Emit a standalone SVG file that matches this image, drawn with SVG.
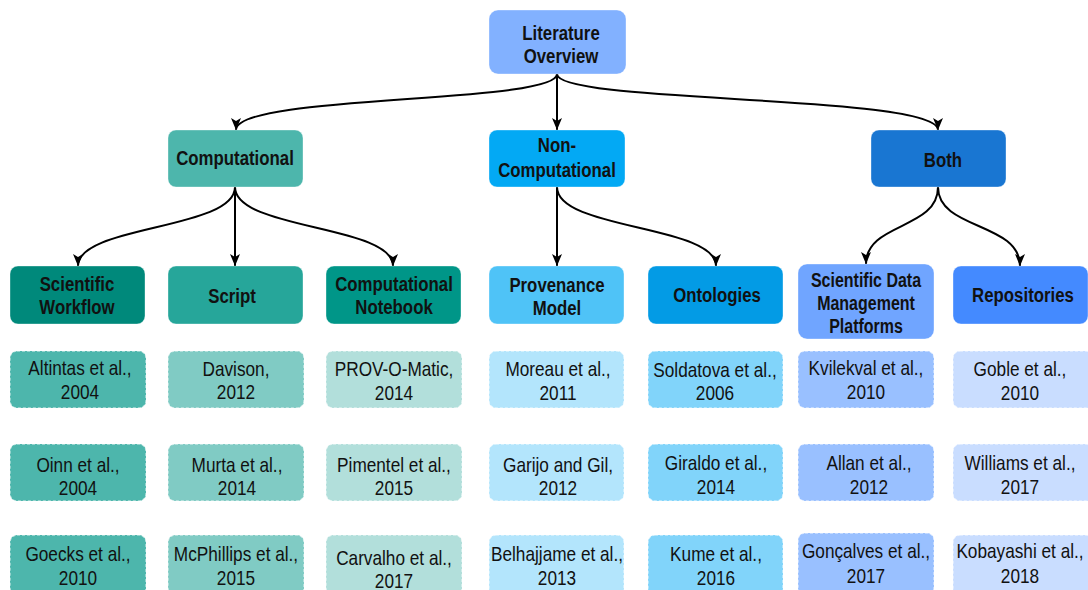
<svg xmlns="http://www.w3.org/2000/svg" width="1088" height="590" viewBox="0 0 1088 590">
  <defs>
    <marker id="arrow" markerUnits="userSpaceOnUse" markerWidth="14" markerHeight="10" refX="12" refY="5" orient="auto">
      <path d="M0,0 L12,5 L0,10 L3,5 z" fill="#000"/>
    </marker>
    <style>
      .hdr { stroke: #ffffff; stroke-opacity: 0.35; stroke-width: 1; }
      .cite { stroke: #ffffff; stroke-opacity: 0.55; stroke-width: 1.5; stroke-dasharray: 3 2; }
      .ht { font-family: "Liberation Sans", Arial, sans-serif; font-weight: bold; font-size: 20.5px; fill: #111; text-anchor: middle; }
      .ht-s { font-size: 19.5px; }
      .ct { font-family: "Liberation Sans", Arial, sans-serif; font-size: 21px; fill: #111; text-anchor: middle; }
      .edge { fill: none; stroke: #000; stroke-width: 2; marker-end: url(#arrow); }
    </style>
  </defs>
  <rect width="1088" height="590" fill="#ffffff"/>

  <!-- connectors -->
  <g id="connectors">
    <path class="edge" d="M557,74 C557,104 236,94 236,130"/>
    <path class="edge" d="M557,74 L557,130"/>
    <path class="edge" d="M557,74 C557,104 938,94 938,130"/>
    <path class="edge" d="M235,187 C235,230 78,225 78,266"/>
    <path class="edge" d="M235,187 L235,266"/>
    <path class="edge" d="M235,187 C235,230 393,225 393,266"/>
    <path class="edge" d="M557,187 L557,266"/>
    <path class="edge" d="M557,187 C557,230 716,225 716,266"/>
    <path class="edge" d="M938,187 C938,230 866,222 866,264"/>
    <path class="edge" d="M938,187 C938,230 1020,222 1020,266"/>
  </g>

  <!-- text is condensed horizontally (scale 0.82) to a narrow face -->

  <!-- root -->
  <g id="literature-overview">
    <rect class="hdr" x="489" y="10" width="137" height="64" rx="9" fill="#82b1ff"/>
    <text class="ht" transform="translate(561,40) scale(0.82,1)">Literature</text>
    <text class="ht" transform="translate(561,63) scale(0.82,1)">Overview</text>
  </g>

  <!-- level 1 -->
  <g id="computational">
    <rect class="hdr" x="168" y="130" width="135" height="57" rx="8" fill="#4db6ac"/>
    <text class="ht" transform="translate(235,165) scale(0.82,1)">Computational</text>
  </g>
  <g id="non-computational">
    <rect class="hdr" x="489" y="130" width="136" height="57" rx="8" fill="#03a9f4"/>
    <text class="ht" transform="translate(557,152) scale(0.82,1)">Non-</text>
    <text class="ht" transform="translate(557,177) scale(0.82,1)">Computational</text>
  </g>
  <g id="both">
    <rect class="hdr" x="871" y="130" width="135" height="57" rx="8" fill="#1976d2"/>
    <text class="ht" transform="translate(943,167) scale(0.82,1)">Both</text>
  </g>

  <!-- level 2 -->
  <g id="scientific-workflow">
    <rect class="hdr" x="10" y="266" width="135" height="58" rx="8" fill="#00897b"/>
    <text class="ht" transform="translate(77,291) scale(0.82,1)">Scientific</text>
    <text class="ht" transform="translate(77,314) scale(0.82,1)">Workflow</text>
  </g>
  <g id="script">
    <rect class="hdr" x="168" y="266" width="135" height="58" rx="8" fill="#26a69a"/>
    <text class="ht" transform="translate(232,303) scale(0.82,1)">Script</text>
  </g>
  <g id="computational-notebook">
    <rect class="hdr" x="326" y="266" width="135" height="58" rx="8" fill="#009688"/>
    <text class="ht" transform="translate(394,291) scale(0.82,1)">Computational</text>
    <text class="ht" transform="translate(394,314) scale(0.82,1)">Notebook</text>
  </g>
  <g id="provenance-model">
    <rect class="hdr" x="489" y="266" width="135" height="58" rx="8" fill="#4fc3f7"/>
    <text class="ht" transform="translate(557,292) scale(0.82,1)">Provenance</text>
    <text class="ht" transform="translate(557,315) scale(0.82,1)">Model</text>
  </g>
  <g id="ontologies">
    <rect class="hdr" x="648" y="266" width="135" height="58" rx="8" fill="#039be5"/>
    <text class="ht" transform="translate(717,302) scale(0.82,1)">Ontologies</text>
  </g>
  <g id="sdm-platforms">
    <rect class="hdr" x="798" y="264" width="136" height="75" rx="9" fill="#70a5ff"/>
    <text class="ht ht-s" transform="translate(866,287) scale(0.82,1)">Scientific Data</text>
    <text class="ht ht-s" transform="translate(866,310) scale(0.82,1)">Management</text>
    <text class="ht ht-s" transform="translate(866,333) scale(0.82,1)">Platforms</text>
  </g>
  <g id="repositories">
    <rect class="hdr" x="953" y="266" width="135" height="58" rx="8" fill="#448aff"/>
    <text class="ht" transform="translate(1023,302) scale(0.82,1)">Repositories</text>
  </g>

  <!-- references: scientific workflow -->
  <g id="ref-altintas">
    <rect class="cite" x="10" y="351" width="136" height="57" rx="7" fill="#4db6ac"/>
    <text class="ct" transform="translate(80,375) scale(0.82,1)">Altintas et al.,</text>
    <text class="ct" transform="translate(80,399) scale(0.82,1)">2004</text>
  </g>
  <g id="ref-oinn">
    <rect class="cite" x="10" y="444" width="136" height="57" rx="7" fill="#4db6ac"/>
    <text class="ct" transform="translate(78,472) scale(0.82,1)">Oinn et al.,</text>
    <text class="ct" transform="translate(78,495) scale(0.82,1)">2004</text>
  </g>
  <g id="ref-goecks">
    <rect class="cite" x="10" y="535" width="136" height="60" rx="7" fill="#4db6ac"/>
    <text class="ct" transform="translate(78,561) scale(0.82,1)">Goecks et al.,</text>
    <text class="ct" transform="translate(78,585) scale(0.82,1)">2010</text>
  </g>

  <!-- references: script -->
  <g id="ref-davison">
    <rect class="cite" x="168" y="351" width="136" height="57" rx="7" fill="#80cbc4"/>
    <text class="ct" transform="translate(236,376) scale(0.82,1)">Davison,</text>
    <text class="ct" transform="translate(236,399) scale(0.82,1)">2012</text>
  </g>
  <g id="ref-murta">
    <rect class="cite" x="168" y="444" width="136" height="57" rx="7" fill="#80cbc4"/>
    <text class="ct" transform="translate(237,472) scale(0.82,1)">Murta et al.,</text>
    <text class="ct" transform="translate(237,495) scale(0.82,1)">2014</text>
  </g>
  <g id="ref-mcphillips">
    <rect class="cite" x="168" y="535" width="136" height="60" rx="7" fill="#80cbc4"/>
    <text class="ct" transform="translate(236,561) scale(0.82,1)">McPhillips et al.,</text>
    <text class="ct" transform="translate(236,585) scale(0.82,1)">2015</text>
  </g>

  <!-- references: computational notebook -->
  <g id="ref-prov-o-matic">
    <rect class="cite" x="326" y="351" width="136" height="57" rx="7" fill="#b2dfdb"/>
    <text class="ct" transform="translate(394,376) scale(0.82,1)">PROV-O-Matic,</text>
    <text class="ct" transform="translate(394,400) scale(0.82,1)">2014</text>
  </g>
  <g id="ref-pimentel">
    <rect class="cite" x="326" y="444" width="136" height="57" rx="7" fill="#b2dfdb"/>
    <text class="ct" transform="translate(394,472) scale(0.82,1)">Pimentel et al.,</text>
    <text class="ct" transform="translate(394,495) scale(0.82,1)">2015</text>
  </g>
  <g id="ref-carvalho">
    <rect class="cite" x="326" y="535" width="136" height="60" rx="7" fill="#b2dfdb"/>
    <text class="ct" transform="translate(394,565) scale(0.82,1)">Carvalho et al.,</text>
    <text class="ct" transform="translate(394,588) scale(0.82,1)">2017</text>
  </g>

  <!-- references: provenance model -->
  <g id="ref-moreau">
    <rect class="cite" x="489" y="351" width="135" height="57" rx="7" fill="#b3e5fc"/>
    <text class="ct" transform="translate(558,376) scale(0.82,1)">Moreau et al.,</text>
    <text class="ct" transform="translate(558,400) scale(0.82,1)">2011</text>
  </g>
  <g id="ref-garijo">
    <rect class="cite" x="489" y="444" width="135" height="57" rx="7" fill="#b3e5fc"/>
    <text class="ct" transform="translate(558,472) scale(0.82,1)">Garijo and Gil,</text>
    <text class="ct" transform="translate(558,495) scale(0.82,1)">2012</text>
  </g>
  <g id="ref-belhajjame">
    <rect class="cite" x="489" y="535" width="135" height="60" rx="7" fill="#b3e5fc"/>
    <text class="ct" transform="translate(557,561) scale(0.82,1)">Belhajjame et al.,</text>
    <text class="ct" transform="translate(557,585) scale(0.82,1)">2013</text>
  </g>

  <!-- references: ontologies -->
  <g id="ref-soldatova">
    <rect class="cite" x="648" y="351" width="135" height="57" rx="7" fill="#81d4fa"/>
    <text class="ct" transform="translate(715,377) scale(0.82,1)">Soldatova et al.,</text>
    <text class="ct" transform="translate(715,400) scale(0.82,1)">2006</text>
  </g>
  <g id="ref-giraldo">
    <rect class="cite" x="648" y="444" width="135" height="57" rx="7" fill="#81d4fa"/>
    <text class="ct" transform="translate(716,470) scale(0.82,1)">Giraldo et al.,</text>
    <text class="ct" transform="translate(716,494) scale(0.82,1)">2014</text>
  </g>
  <g id="ref-kume">
    <rect class="cite" x="648" y="535" width="135" height="60" rx="7" fill="#81d4fa"/>
    <text class="ct" transform="translate(716,561) scale(0.82,1)">Kume et al.,</text>
    <text class="ct" transform="translate(716,585) scale(0.82,1)">2016</text>
  </g>

  <!-- references: scientific data management platforms -->
  <g id="ref-kvilekval">
    <rect class="cite" x="798" y="351" width="136" height="57" rx="7" fill="#99c0ff"/>
    <text class="ct" transform="translate(866,375) scale(0.82,1)">Kvilekval et al.,</text>
    <text class="ct" transform="translate(866,399) scale(0.82,1)">2010</text>
  </g>
  <g id="ref-allan">
    <rect class="cite" x="798" y="444" width="136" height="57" rx="7" fill="#99c0ff"/>
    <text class="ct" transform="translate(869,470) scale(0.82,1)">Allan et al.,</text>
    <text class="ct" transform="translate(869,494) scale(0.82,1)">2012</text>
  </g>
  <g id="ref-goncalves">
    <rect class="cite" x="798" y="533" width="136" height="62" rx="7" fill="#99c0ff"/>
    <text class="ct" transform="translate(866,558) scale(0.82,1)">Gonçalves et al.,</text>
    <text class="ct" transform="translate(866,583) scale(0.82,1)">2017</text>
  </g>

  <!-- references: repositories -->
  <g id="ref-goble">
    <rect class="cite" x="953" y="351" width="140" height="57" rx="7" fill="#c9ddff"/>
    <text class="ct" transform="translate(1020,376) scale(0.82,1)">Goble et al.,</text>
    <text class="ct" transform="translate(1020,400) scale(0.82,1)">2010</text>
  </g>
  <g id="ref-williams">
    <rect class="cite" x="953" y="444" width="140" height="57" rx="7" fill="#c9ddff"/>
    <text class="ct" transform="translate(1020,470) scale(0.82,1)">Williams et al.,</text>
    <text class="ct" transform="translate(1020,494) scale(0.82,1)">2017</text>
  </g>
  <g id="ref-kobayashi">
    <rect class="cite" x="953" y="535" width="140" height="60" rx="7" fill="#c9ddff"/>
    <text class="ct" transform="translate(1020,558) scale(0.82,1)">Kobayashi et al.,</text>
    <text class="ct" transform="translate(1020,583) scale(0.82,1)">2018</text>
  </g>
</svg>
